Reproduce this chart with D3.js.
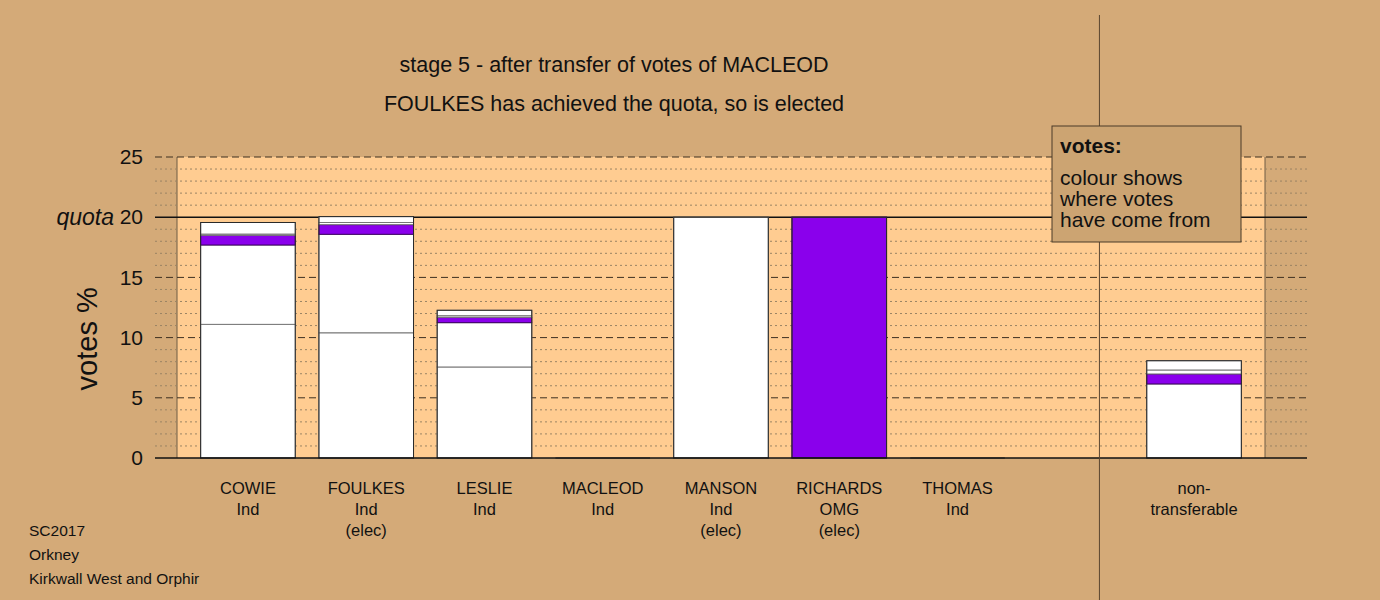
<!DOCTYPE html>
<html>
<head>
<meta charset="utf-8">
<script src="https://cdn.jsdelivr.net/npm/d3@7"></script>
<style>
  html, body { margin: 0; padding: 0; background: #d4aa78; }
  svg { display: block; font-family: "Liberation Sans", Arial, sans-serif; }
</style>
</head>
<body>
<svg id="chart" width="1380" height="600"></svg>
<script>
// Candidates (an empty slot separates candidates from non-transferable votes)
const categories = ["COWIE", "FOULKES", "LESLIE", "MACLEOD", "MANSON", "RICHARDS", "THOMAS", "", "NONTRANS"];
const labelLines = [
  ["COWIE", "Ind"],
  ["FOULKES", "Ind", "(elec)"],
  ["LESLIE", "Ind"],
  ["MACLEOD", "Ind"],
  ["MANSON", "Ind", "(elec)"],
  ["RICHARDS", "OMG", "(elec)"],
  ["THOMAS", "Ind"],
  [],
  ["non-", "transferable"]
];
// Party of each candidate slot (sets colour of own first preferences)
const parties = ["Ind", "Ind", "Ind", "Ind", "Ind", "OMG", "Ind", "", "Ind"];

// Vote share (%) by stage of arrival
const firstPrefs   = [11.1, 10.4, 7.56, 0, 20.0, 20.0, 0, 0, 0];
const fromManson   = [6.59, 8.18, 3.68, 0, 0, 0, 0, 0, 6.15];
const fromRichards = [0.81, 0.80, 0.45, 0, 0, 0, 0, 0, 0.83];
const fromThomas   = [0.10, 0.18, 0.13, 0, 0, 0, 0, 0, 0.33];
const fromMacleod  = [0.96, 0.49, 0.45, 0, 0, 0, 0, 0, 0.77];
const stageSources = ["own", "Ind", "OMG", "Ind", "Ind"];

const yTicks = [0, 5, 10, 15, 20, 25];
const quota = 20;

const partyColour = { Ind: "#ffffff", OMG: "#8a00ec" };

const svg = d3.select("#chart");
const x = d3.scaleBand().domain(categories).range([177, 1265]).padding(0.2);
const y = d3.scaleLinear().domain([0, 25]).range([458, 157]);

const gridLeft = 155, gridRight = 1307;

// plot panel
svg.append("rect")
  .attr("x", x.range()[0]).attr("y", y(25))
  .attr("width", x.range()[1] - x.range()[0]).attr("height", y(0) - y(25))
  .attr("fill", "#ffcc91");
[x.range()[0], x.range()[1]].forEach(px => {
  svg.append("line").attr("x1", px).attr("x2", px).attr("y1", y(25)).attr("y2", y(0))
    .attr("stroke", "#6e5c44").attr("stroke-width", 1);
});

// grid lines: dotted every 1%, dashed every 5%, solid at quota
d3.range(1, 26).forEach(v => {
  const major = v % 5 === 0;
  const line = svg.append("line")
    .attr("x1", gridLeft).attr("x2", gridRight)
    .attr("y1", y(v)).attr("y2", y(v));
  if (v === quota) {
    line.attr("stroke", "#111").attr("stroke-width", 1.4);
  } else if (major) {
    line.attr("stroke", "#3e3020").attr("stroke-width", 1).attr("stroke-dasharray", "7,4");
  } else {
    line.attr("stroke", "#9a8464").attr("stroke-width", 1).attr("stroke-dasharray", "2,3");
  }
});

// stacked bars
const stages = [firstPrefs, fromManson, fromRichards, fromThomas, fromMacleod];
categories.forEach((c, i) => {
  if (c === "") return;
  let base = 0;
  stages.forEach((arr, s) => {
    const v = arr[i];
    if (v <= 0) return;
    const src = stageSources[s] === "own" ? parties[i] : stageSources[s];
    const fill = partyColour[src];
    svg.append("rect")
      .attr("x", x(c)).attr("width", x.bandwidth())
      .attr("y", y(base + v)).attr("height", y(base) - y(base + v))
      .attr("fill", fill)
      .attr("stroke", src === "OMG" ? "#3d0066" : "#777")
      .attr("stroke-width", 1);
    base += v;
  });
  if (base > 0) {
    svg.append("rect")
      .attr("x", x(c)).attr("width", x.bandwidth())
      .attr("y", y(base)).attr("height", y(0) - y(base))
      .attr("fill", "none").attr("stroke", "#2a2a2a").attr("stroke-width", 1);
  } else {
    svg.append("line")
      .attr("x1", x(c)).attr("x2", x(c) + x.bandwidth())
      .attr("y1", y(0)).attr("y2", y(0))
      .attr("stroke", "#2a2a2a");
  }
});

// baseline
svg.append("line").attr("x1", gridLeft).attr("x2", gridRight)
  .attr("y1", y(0)).attr("y2", y(0)).attr("stroke", "#111").attr("stroke-width", 1.4);

// divider between candidates and non-transferable
const divX = x("") + x.bandwidth() * 0.75;
svg.append("line").attr("x1", divX).attr("x2", divX).attr("y1", 15).attr("y2", 600)
  .attr("stroke", "#5a4630").attr("stroke-width", 1);

// y axis tick labels
const yAxis = d3.axisLeft(y).tickValues(yTicks).tickSize(0).tickPadding(0).tickFormat(d3.format("d"));
const gy = svg.append("g").attr("transform", "translate(143,0)").call(yAxis);
gy.select(".domain").remove();
gy.selectAll("text").attr("font-size", 21).attr("fill", "#111")
  .attr("font-family", "Liberation Sans, Arial, sans-serif");

svg.append("text").attr("x", 114).attr("y", y(quota)).attr("dy", "0.35em")
  .attr("text-anchor", "end").attr("font-size", 23).attr("font-style", "italic")
  .attr("fill", "#111").text("quota");

svg.append("text").attr("transform", `translate(97,${y(9.9)}) rotate(-90)`)
  .attr("text-anchor", "middle").attr("font-size", 29).attr("fill", "#111").text("votes %");

// category labels
categories.forEach((c, i) => {
  labelLines[i].forEach((t, k) => {
    svg.append("text")
      .attr("x", x(c) + x.bandwidth() / 2).attr("y", 494 + k * 21)
      .attr("text-anchor", "middle").attr("font-size", 16.5).attr("fill", "#111").text(t);
  });
});

// titles
svg.append("text").attr("x", 614).attr("y", 72).attr("text-anchor", "middle")
  .attr("font-size", 21.5).attr("fill", "#111").text("stage 5 - after transfer of votes of MACLEOD");
svg.append("text").attr("x", 614).attr("y", 111).attr("text-anchor", "middle")
  .attr("font-size", 21.5).attr("fill", "#111").text("FOULKES has achieved the quota, so is elected");

// source notes
["SC2017", "Orkney", "Kirkwall West and Orphir"].forEach((t, k) => {
  svg.append("text").attr("x", 29).attr("y", 536 + k * 24)
    .attr("font-size", 15.5).attr("fill", "#111").text(t);
});

// legend
const lg = svg.append("g");
lg.append("rect").attr("x", 1052).attr("y", 126).attr("width", 189).attr("height", 116)
  .attr("fill", "#cca472").attr("stroke", "#4a3a28").attr("stroke-width", 1);
lg.append("text").attr("x", 1060).attr("y", 153).attr("font-size", 21)
  .attr("font-weight", "bold").attr("fill", "#111").text("votes:");
["colour shows", "where votes", "have come from"].forEach((t, k) => {
  lg.append("text").attr("x", 1060).attr("y", 185 + k * 21)
    .attr("font-size", 21).attr("fill", "#111").text(t);
});
</script>
</body>
</html>
